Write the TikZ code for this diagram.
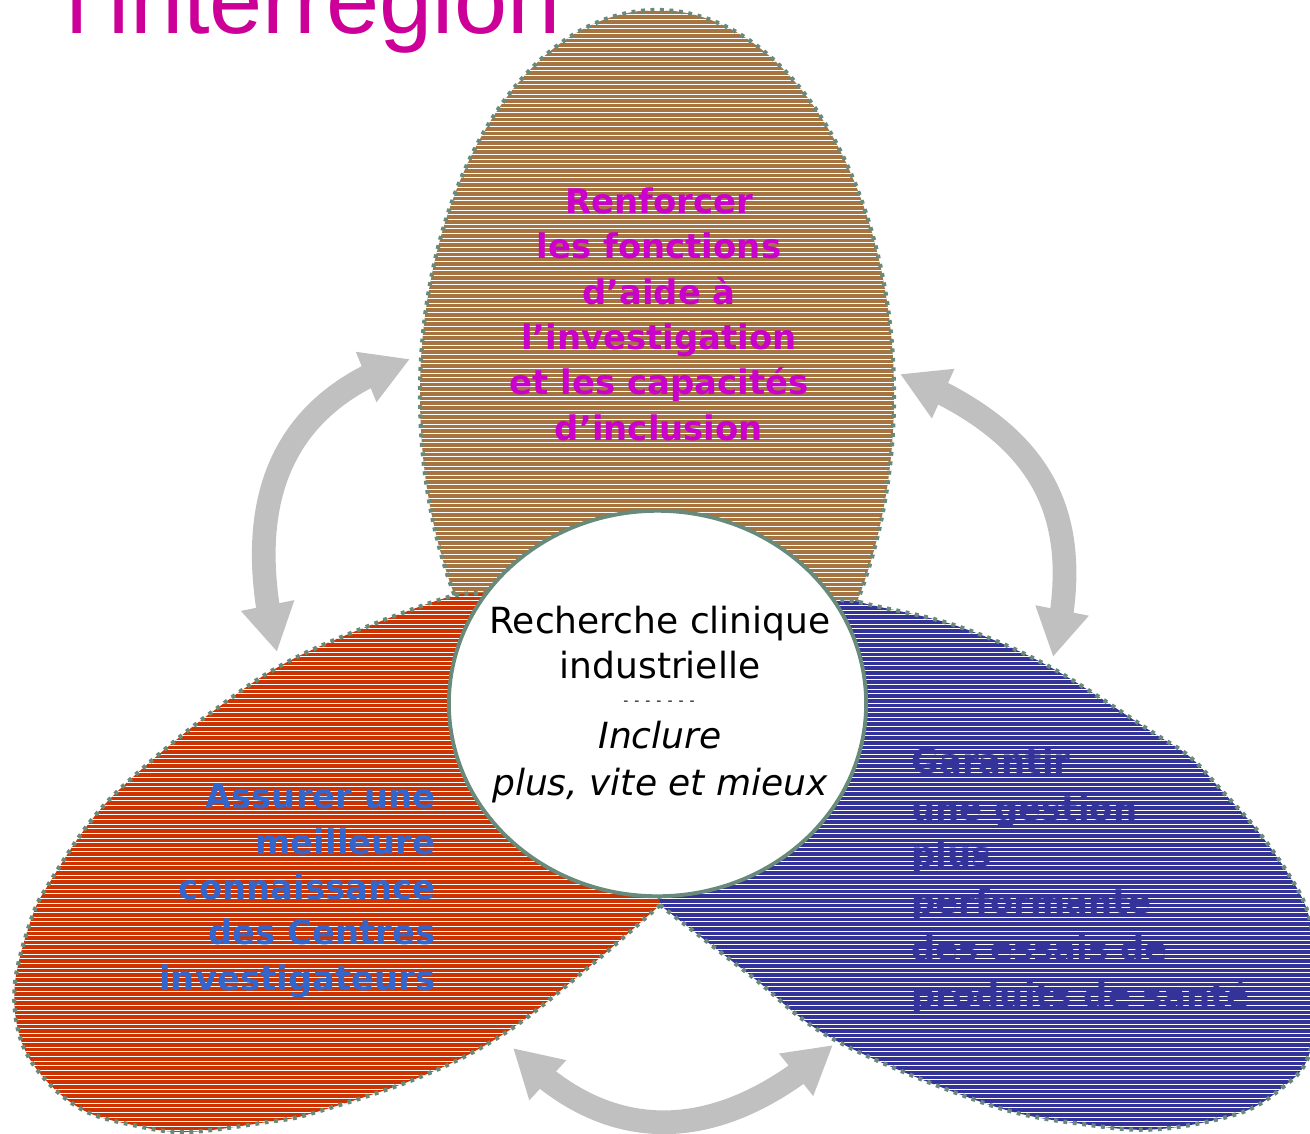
\documentclass[tikz,border=0pt]{standalone}
\usepackage{fontspec}
\setmainfont{DejaVu Sans}
\newfontfamily\titlefont{Liberation Sans}
\usetikzlibrary{arrows.meta,bending,shapes.geometric}
\definecolor{petalbrown}{RGB}{166,116,64}
\definecolor{petalred}{RGB}{204,51,0}
\definecolor{petalblue}{RGB}{51,51,153}
\definecolor{topmag}{RGB}{204,0,204}
\definecolor{leftblue}{RGB}{51,102,204}
\definecolor{arrowgray}{RGB}{192,192,192}
\definecolor{bordergreen}{RGB}{104,138,122}
\definecolor{titlemag}{RGB}{204,0,153}
\newcommand\toppetalpath{(657,395) ellipse [x radius=237, y radius=385]}
\newcommand\leftpetalpath{plot[smooth, tension=0.6] coordinates {(660,905) (590,966) (505,1033) (420,1077) (313,1113) (267,1122) (187,1132) (133,1125) (83,1110) (43,1077) (20,1037) (15,983) (32,917) (50,882) (90,822) (133,777) (212,712) (297,657) (430,603) (483,593) (560,598) (630,670) (655,800) (660,905)} -- cycle}
\newcommand\rightpetalpath{plot[smooth, tension=0.6] coordinates {(660,905) (750,975) (835,1040) (990,1105) (1090,1125) (1160,1129) (1240,1113) (1283,1087) (1307,1060) (1317,1010) (1316,960) (1307,910) (1287,872) (1257,830) (1223,792) (1190,757) (1152,732) (1050,667) (960,627) (880,607) (837,600) (760,605) (690,680) (662,800) (660,905)} -- cycle}
\begin{document}
\begin{tikzpicture}[x=0.02cm, y=-0.02cm,
  stripe/.style={white, line width=0.55pt},
  petalborder/.style={draw=bordergreen, line width=2.4pt, dash pattern=on 2.2pt off 3.2pt},
  petaltext/.style={inner sep=0, font={\fontsize{19.3pt}{25.8pt}\selectfont\bfseries}},
  coretext/.style={inner sep=0, font={\fontsize{20.5pt}{25.5pt}\selectfont}},
  bigarrow/.style={draw=arrowgray, line width=13.5pt,
    {Triangle[length=27pt,width=29pt]}-{Triangle[length=27pt,width=29pt]}}]
\useasboundingbox (0,0) rectangle (1310,1133);
\clip (0,0) rectangle (1310,1133);

% title (cut by the top edge)
\node[inner sep=0, anchor=base west, text=titlemag,
      font={\titlefont\fontsize{54.4pt}{60pt}\selectfont}] (title) at (66,33) {l’interrégion};

% top petal
\begin{scope}
  \clip \toppetalpath;
  \fill[petalbrown] (0,0) rectangle (1310,1133);
  \foreach \yy in {1,5.65,...,1133} \draw[stripe] (0,\yy) -- (1310,\yy);
\end{scope}
\draw[petalborder] \toppetalpath;
\node[petaltext, text=topmag, align=center, anchor=base] (toptext) at (659,440)
  {Renforcer\\les fonctions\\d’aide à\\l’investigation\\et les capacités\\d’inclusion};

% left petal
\begin{scope}
  \clip \leftpetalpath;
  \fill[petalred] (0,0) rectangle (1310,1133);
  \foreach \yy in {1,5.65,...,1133} \draw[stripe] (0,\yy) -- (1310,\yy);
\end{scope}
\draw[petalborder] \leftpetalpath;
\node[petaltext, text=leftblue, align=right, anchor=base east] (lefttext) at (436,990)
  {Assurer une\\meilleure\\connaissance\\des Centres\\investigateurs};

% right petal
\begin{scope}
  \clip \rightpetalpath;
  \fill[petalblue] (0,0) rectangle (1310,1133);
  \foreach \yy in {1,5.65,...,1133} \draw[stripe] (0,\yy) -- (1310,\yy);
\end{scope}
\draw[petalborder] \rightpetalpath;
\node[petaltext, text=petalblue, align=left, anchor=base west,
      font={\fontsize{19.3pt}{26.6pt}\selectfont\bfseries}] (righttext) at (911,1007)
  {Garantir\\une gestion\\plus\\performante\\des essais de\\produits de santé};

% core circle
\node[draw=bordergreen, line width=2.2pt, fill=white, ellipse, inner sep=0,
      minimum width=237.5pt, minimum height=219.4pt] (core) at (657.5,703.5) {};
\node[coretext, align=center, anchor=base] (coretitle) at (660,678)
  {Recherche clinique\\industrielle};
\node[inner sep=0, anchor=base, font={\fontsize{8pt}{9pt}\selectfont}] (coredash) at (659,705)
  {-\kern3.4pt-\kern3.4pt-\kern3.4pt-\kern3.4pt-\kern3.4pt-\kern3.4pt-};
\node[coretext, align=center, anchor=base, font={\fontsize{20.5pt}{26.6pt}\selectfont\itshape}] (coremotto) at (660,795)
  {Inclure\\plus, vite et mieux};

% arrows
\coordinate (la1) at (277,652);
\coordinate (la2) at (410,359);
\coordinate (ra1) at (1053,657);
\coordinate (ra2) at (900,374);
\coordinate (ba1) at (513,1048);
\coordinate (ba2) at (833,1045);
\draw[bigarrow] (la1) to[out=104, in=198, looseness=1.15] (la2);
\draw[bigarrow] (ra1) to[out=76, in=338, looseness=1.2] (ra2);
\draw[bigarrow] (ba1) to[out=313, in=222, looseness=1.15] (ba2);
\end{tikzpicture}
\end{document}
